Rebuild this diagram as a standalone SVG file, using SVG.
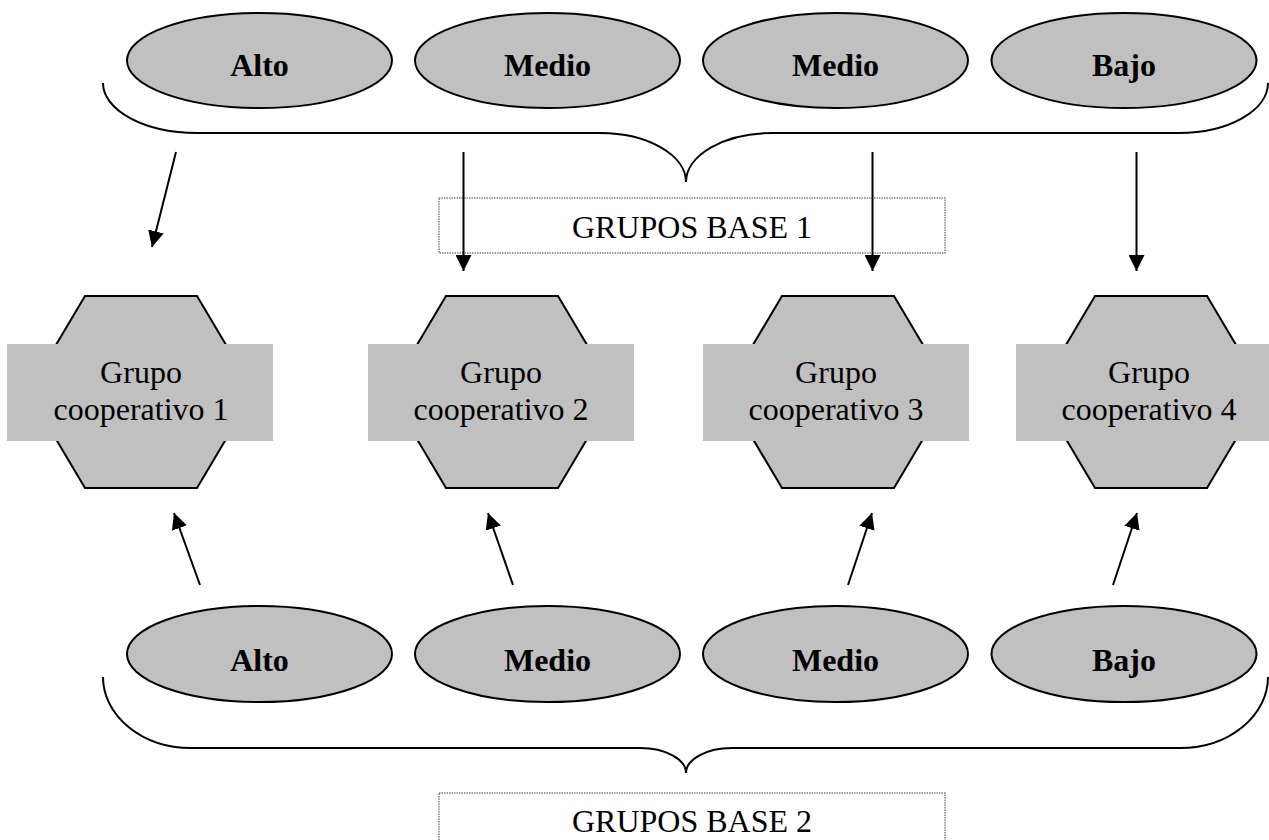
<svg xmlns="http://www.w3.org/2000/svg" width="1269" height="840" viewBox="0 0 1269 840">
<style>
.ell{fill:#c0c0c0;stroke:#000;stroke-width:2}
.hex{fill:#c0c0c0;stroke:#000;stroke-width:2}
.rct{fill:#c0c0c0;stroke:none}
.bt{font-family:"Liberation Serif","Times New Roman",serif;font-size:32px;font-weight:bold;text-anchor:middle;fill:#000}
.rt{font-family:"Liberation Serif","Times New Roman",serif;font-size:32px;text-anchor:middle;fill:#000}
.brace{fill:none;stroke:#000;stroke-width:2}
.box{fill:#fff;stroke:#808080;stroke-width:1.5;stroke-dasharray:1.5 1}
.arr{stroke:#000;stroke-width:2;fill:none;marker-end:url(#ah)}
</style>
<defs>
<marker id="ah" markerUnits="userSpaceOnUse" markerWidth="16" markerHeight="16" viewBox="0 0 15 15" refX="15" refY="7.5" orient="auto">
<path d="M0,0 L15,7.5 L0,15 z" fill="#000"/>
</marker>
</defs>
<g id="braces">
<path class="brace" d="M103,83 A94,50 0 0 0 197,133 L600,133 A86,49 0 0 1 686,182 A86,49 0 0 1 772,133 L1179,133 A89,50 0 0 0 1268,83"/>
<path class="brace" d="M103,677 A88,71 0 0 0 191,748 L640,748 A46,25 0 0 1 686,773 A46,25 0 0 1 732,748 L1180,748 A88,71 0 0 0 1268,677"/>
</g>
<g id="top-alto"><ellipse class="ell" cx="259.5" cy="60.5" rx="132.5" ry="47.5"/><text class="bt" x="259.5" y="76">Alto</text></g>
<g id="top-medio1"><ellipse class="ell" cx="547.5" cy="60.5" rx="132.5" ry="47.5"/><text class="bt" x="547.5" y="76">Medio</text></g>
<g id="top-medio2"><ellipse class="ell" cx="835.5" cy="60.5" rx="132.5" ry="47.5"/><text class="bt" x="835.5" y="76">Medio</text></g>
<g id="top-bajo"><ellipse class="ell" cx="1124" cy="60.5" rx="132.5" ry="47.5"/><text class="bt" x="1124" y="76">Bajo</text></g>
<g id="label-base1"><rect class="box" x="439" y="198" width="506" height="55"/><text class="rt" x="692" y="238">GRUPOS BASE 1</text></g>
<g id="coop1"><polygon class="hex" points="85,296 197,296 254,392 197,488 85,488 28,392"/><rect class="rct" x="7" y="344" width="266" height="97"/><text class="rt" x="141" y="383">Grupo</text><text class="rt" x="141" y="420">cooperativo 1</text></g>
<g id="coop2"><polygon class="hex" points="446,296 558,296 615,392 558,488 446,488 389,392"/><rect class="rct" x="368" y="344" width="266" height="97"/><text class="rt" x="501" y="383">Grupo</text><text class="rt" x="501" y="420">cooperativo 2</text></g>
<g id="coop3"><polygon class="hex" points="782,296 894,296 951,392 894,488 782,488 725,392"/><rect class="rct" x="703" y="344" width="266" height="97"/><text class="rt" x="836" y="383">Grupo</text><text class="rt" x="836" y="420">cooperativo 3</text></g>
<g id="coop4"><polygon class="hex" points="1095,296 1207,296 1264,392 1207,488 1095,488 1038,392"/><rect class="rct" x="1016" y="344" width="266" height="97"/><text class="rt" x="1149" y="383">Grupo</text><text class="rt" x="1149" y="420">cooperativo 4</text></g>
<g id="bot-alto"><ellipse class="ell" cx="259.5" cy="654" rx="132.5" ry="48"/><text class="bt" x="259.5" y="671">Alto</text></g>
<g id="bot-medio1"><ellipse class="ell" cx="547.5" cy="654" rx="132.5" ry="48"/><text class="bt" x="547.5" y="671">Medio</text></g>
<g id="bot-medio2"><ellipse class="ell" cx="835.5" cy="654" rx="132.5" ry="48"/><text class="bt" x="835.5" y="671">Medio</text></g>
<g id="bot-bajo"><ellipse class="ell" cx="1124" cy="654" rx="132.5" ry="48"/><text class="bt" x="1124" y="671">Bajo</text></g>
<g id="label-base2"><rect class="box" x="439" y="793" width="506" height="60"/><text class="rt" x="692" y="832">GRUPOS BASE 2</text></g>
<g id="connectors">
<line class="arr" x1="176" y1="152" x2="152" y2="247"/>
<line class="arr" x1="463.5" y1="152" x2="463.5" y2="271"/>
<line class="arr" x1="872.5" y1="152" x2="872.5" y2="271"/>
<line class="arr" x1="1136.5" y1="152" x2="1136.5" y2="271"/>
<line class="arr" x1="200" y1="585" x2="174" y2="513"/>
<line class="arr" x1="513" y1="585" x2="488" y2="513"/>
<line class="arr" x1="848" y1="585" x2="872" y2="513"/>
<line class="arr" x1="1113" y1="585" x2="1137" y2="513"/>
</g>
</svg>
